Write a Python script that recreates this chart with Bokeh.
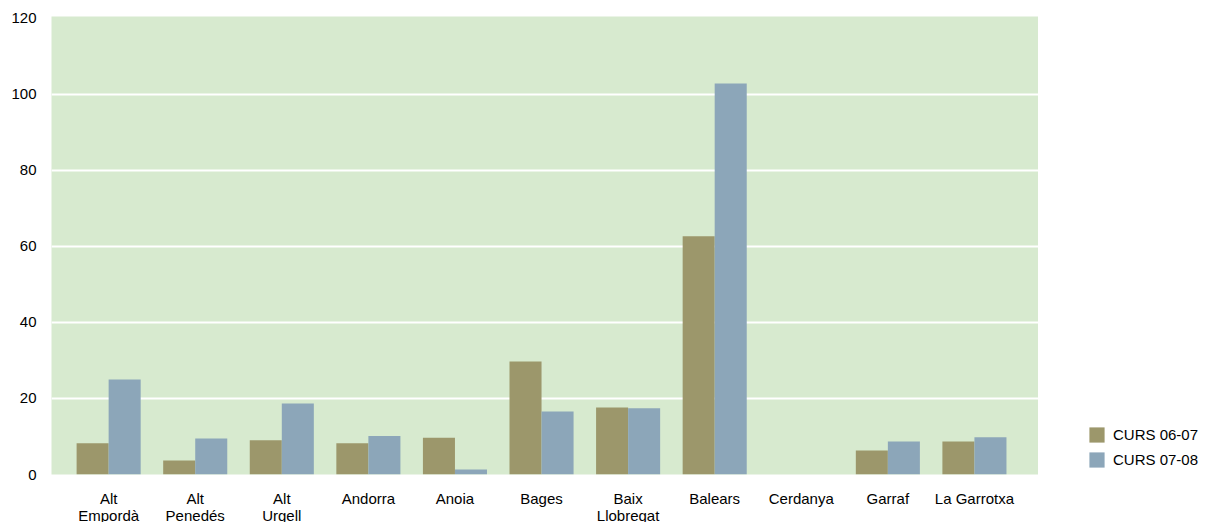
from bokeh.plotting import figure
from bokeh.layouts import row
from bokeh.models import ColumnDataSource, Range1d, FixedTicker, Legend, LegendItem
from bokeh.transform import dodge
from bokeh.embed import file_html
from bokeh.resources import INLINE

categories = ["Alt\nEmpordà", "Alt\nPenedés", "Alt\nUrgell", "Andorra", "Anoia", "Bages",
              "Baix\nLlobregat", "Balears", "Cerdanya", "Garraf", "La Garrotxa"]
curs_06_07 = [8.2, 3.7, 9.0, 8.2, 9.7, 29.7, 17.6, 62.7, 0, 6.3, 8.7]
curs_07_08 = [25.0, 9.5, 18.7, 10.1, 1.3, 16.6, 17.4, 102.9, 0, 8.7, 9.8]
series_names = ["CURS 06-07", "CURS 07-08"]
series_colors = ["#9c976b", "#8ca6b9"]
y_ticks = [0, 20, 40, 60, 80, 100, 120]
grid_ticks = [20, 40, 60, 80, 100]

FONT = "Liberation Sans"
FRAME_H = 458

src = ColumnDataSource(dict(x=list(range(len(categories))), a=curs_06_07, b=curs_07_08))

p = figure(frame_width=987, frame_height=FRAME_H,
           x_range=Range1d(-0.66, 10.74), y_range=Range1d(0, 120.5),
           output_backend="svg", toolbar_location=None,
           min_border_left=51, min_border_right=0, min_border_top=16, min_border_bottom=20)

p.background_fill_color = "#d7eacf"
p.border_fill_color = "white"
p.outline_line_color = None

p.vbar(x=dodge("x", -0.185, range=p.x_range), top="a", bottom=0, width=0.37,
       source=src, fill_color=series_colors[0], line_color=None)
p.vbar(x=dodge("x", 0.185, range=p.x_range), top="b", bottom=0, width=0.37,
       source=src, fill_color=series_colors[1], line_color=None)

p.xgrid.visible = False
p.ygrid.ticker = FixedTicker(ticks=grid_ticks)
p.ygrid.grid_line_color = "white"
p.ygrid.grid_line_width = 2

for ax in (p.xaxis[0], p.yaxis[0]):
    ax.axis_line_color = None
    ax.major_tick_line_color = None
    ax.minor_tick_line_color = None
    ax.major_tick_out = 0
    ax.major_tick_in = 0
    ax.minor_tick_out = 0
    ax.minor_tick_in = 0
    ax.major_label_text_font = FONT
    ax.major_label_text_font_size = "15px"
    ax.major_label_text_color = "black"

p.yaxis.ticker = FixedTicker(ticks=y_ticks)
p.yaxis.major_label_standoff = 15

p.xaxis.ticker = FixedTicker(ticks=list(range(len(categories))))
p.xaxis.major_label_overrides = {i: c for i, c in enumerate(categories)}
p.xaxis.major_label_standoff = 15
p.xaxis.major_label_text_line_height = 1.0

# legend panel (frames of the row's plots are aligned)
lg = figure(frame_width=162, frame_height=FRAME_H, x_range=Range1d(0, 1), y_range=Range1d(0, 1),
            output_backend="svg", toolbar_location=None,
            min_border_left=0, min_border_right=0, min_border_top=16, min_border_bottom=0)
lg.axis.visible = False
lg.grid.visible = False
lg.outline_line_color = None
lg.background_fill_color = "white"
lg.border_fill_color = "white"
offscreen = ColumnDataSource(dict(x=[5], top=[5]))
d1 = lg.vbar(x="x", top="top", width=0.1, source=offscreen, fill_color=series_colors[0], line_color=None)
d2 = lg.vbar(x="x", top="top", width=0.1, source=offscreen, fill_color=series_colors[1], line_color=None)

legend = Legend(items=[LegendItem(label=series_names[0], renderers=[d1]),
                       LegendItem(label=series_names[1], renderers=[d2])],
                location=(49, 5), glyph_width=19, glyph_height=19, label_height=19,
                spacing=6, padding=0, margin=0, label_standoff=7,
                label_text_font=FONT, label_text_font_size="15px",
                label_text_color="black",
                border_line_color=None, background_fill_alpha=0)
lg.add_layout(legend, "center")

open("out.html", "w").write(file_html(row(p, lg), INLINE))
